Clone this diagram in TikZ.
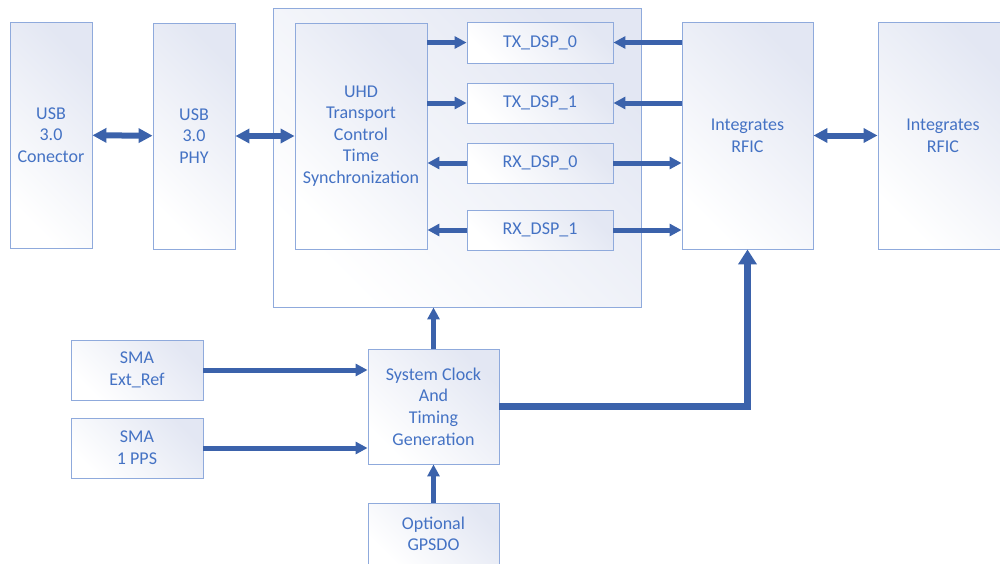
\documentclass[tikz,border=0pt]{standalone}
\usepackage{fontspec}
\setmainfont{Carlito}
\usetikzlibrary{arrows.meta}
\definecolor{boxline}{HTML}{8FAADC}
\definecolor{boxtext}{HTML}{4472C4}
\definecolor{boxfill}{HTML}{E3E7F3}
\definecolor{arrowblue}{HTML}{3B62AB}
\begin{document}
\begin{tikzpicture}[x=1pt,y=-1pt,
  blk/.style={draw=boxline,line width=0.9pt,text=boxtext,align=center,
    top color=boxfill,bottom color=white,shading angle=-45,
    font=\fontsize{18pt}{21.6pt}\selectfont,inner sep=0pt},
  bus/.style={draw=arrowblue,line width=5pt,-{Triangle[width=12pt,length=12pt]}},
  duplex/.style={draw=arrowblue,line width=6pt,{Triangle[width=14pt,length=14pt]}-{Triangle[width=14pt,length=14pt]}},
  trunk/.style={draw=arrowblue,line width=7pt,-{Triangle[width=18pt,length=15pt]}}]

\useasboundingbox (0,0) rectangle (1000,563);

% FPGA frame
\node[blk,minimum width=368pt,minimum height=299pt] (fpga) at (457,157.5) {};

\node[blk,minimum width=82pt,minimum height=226pt] (usbc) at (51,135) {USB\\3.0\\Conector};
\node[blk,minimum width=82pt,minimum height=226pt] (usbphy) at (194,136) {USB\\3.0\\PHY};
\node[blk,minimum width=132pt,minimum height=226pt] (uhd) at (361,136) {UHD\\Transport\\Control\\Time\\Synchronization};

\node[blk,minimum width=146pt,minimum height=41pt] (tx0) at (540,42.5) {TX\_DSP\_0};
\node[blk,minimum width=146pt,minimum height=40pt] (tx1) at (540,103) {TX\_DSP\_1};
\node[blk,minimum width=146pt,minimum height=40pt] (rx0) at (540,163) {RX\_DSP\_0};
\node[blk,minimum width=146pt,minimum height=40pt] (rx1) at (540,230) {RX\_DSP\_1};

\node[blk,minimum width=131pt,minimum height=227pt] (rfic1) at (747.5,135.5) {Integrates\\RFIC};
\node[blk,minimum width=130pt,minimum height=227pt] (rfic2) at (943,135.5) {Integrates\\RFIC};

\node[blk,minimum width=132pt,minimum height=60pt] (smaext) at (137,370) {SMA\\Ext\_Ref};
\node[blk,minimum width=132pt,minimum height=60pt] (smapps) at (137,448) {SMA\\1 PPS};
\node[blk,minimum width=131pt,minimum height=115pt] (sysclk) at (433.5,406.5) {System Clock\\And\\Timing\\Generation};
\node[blk,minimum width=131pt,minimum height=62pt] (gpsdo) at (433.5,534) {Optional\\GPSDO};

% USB path
\draw[duplex] (usbc) -- (usbphy);
\draw[duplex] (usbphy) -- (usbphy -| uhd.west);
\draw[duplex] (rfic1) -- (rfic2);

% DSP chains
\draw[bus] (uhd.east |- tx0) -- (tx0);
\draw[bus] (uhd.east |- tx1) -- (tx1);
\draw[bus] (rx0) -- (rx0 -| uhd.east);
\draw[bus] (rx1) -- (rx1 -| uhd.east);
\draw[bus] (rfic1.west |- tx0) -- (tx0);
\draw[bus] (rfic1.west |- tx1) -- (tx1);
\draw[bus] (rx0) -- (rx0 -| rfic1.west);
\draw[bus] (rx1) -- (rx1 -| rfic1.west);

% clocking
\draw[bus] (smaext) -- (smaext -| sysclk.west);
\draw[bus] (smapps) -- (smapps -| sysclk.west);
\draw[bus] (sysclk) -- (sysclk |- fpga.south);
\draw[bus] (gpsdo) -- (sysclk);
\draw[trunk] (sysclk.east) -| (rfic1.south);

\end{tikzpicture}
\end{document}
